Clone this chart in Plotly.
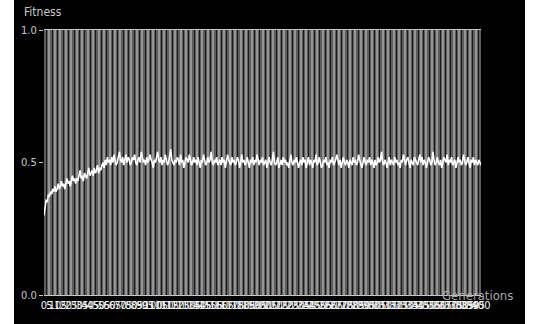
import plotly.graph_objects as go

fitness = [
    0.30, 0.33, 0.36, 0.35, 0.38, 0.37, 0.39, 0.38, 0.40, 0.39,
    0.41, 0.39, 0.40, 0.42, 0.40, 0.41, 0.43, 0.41, 0.42, 0.40,
    0.42, 0.44, 0.42, 0.43, 0.41, 0.43, 0.45, 0.43, 0.44, 0.42,
    0.44, 0.43, 0.45, 0.47, 0.44, 0.45, 0.43, 0.46, 0.45, 0.44,
    0.46, 0.48, 0.45, 0.46, 0.47, 0.45, 0.48, 0.46, 0.47, 0.49,
    0.46, 0.48, 0.47, 0.49, 0.50, 0.48, 0.51, 0.49, 0.52, 0.50,
    0.51,
    0.49, 0.52, 0.50, 0.53, 0.51, 0.49, 0.50, 0.52, 0.54, 0.51, 0.50, 0.52, 0.49, 0.51, 0.53, 0.50, 0.52, 0.51, 0.49, 0.50,
    0.52, 0.51, 0.53, 0.50, 0.49, 0.51, 0.52, 0.50, 0.54, 0.52, 0.50, 0.51, 0.49, 0.52, 0.50, 0.51, 0.53, 0.51, 0.50, 0.48,
    0.51, 0.50, 0.52, 0.54, 0.51, 0.50, 0.52, 0.49, 0.51, 0.50, 0.53, 0.51, 0.49, 0.50, 0.52, 0.55, 0.51, 0.50, 0.49, 0.51,
    0.50, 0.52, 0.51, 0.49, 0.53, 0.50, 0.51, 0.48, 0.50, 0.52, 0.51, 0.50, 0.53, 0.51, 0.49, 0.50, 0.52, 0.50, 0.51, 0.49,
    0.52, 0.50, 0.48, 0.51, 0.50, 0.53, 0.51, 0.49, 0.50, 0.52, 0.50, 0.51, 0.54, 0.50, 0.49, 0.51, 0.50, 0.52, 0.49, 0.50,
    0.51, 0.49, 0.52, 0.50, 0.51, 0.48, 0.50, 0.53, 0.51, 0.50, 0.49, 0.52, 0.50, 0.51, 0.49, 0.50, 0.52, 0.51, 0.48, 0.50,
    0.53, 0.50, 0.51, 0.49, 0.50, 0.52, 0.50, 0.48, 0.51, 0.50, 0.52, 0.49, 0.51, 0.50, 0.53, 0.50, 0.49, 0.51, 0.50, 0.52,
    0.49, 0.50, 0.51, 0.48, 0.50, 0.52, 0.50, 0.49, 0.51, 0.54, 0.50, 0.49, 0.50, 0.52, 0.48, 0.50, 0.51, 0.49, 0.52, 0.50,
    0.51, 0.49, 0.50, 0.48, 0.51, 0.53, 0.50, 0.49, 0.51, 0.50, 0.52, 0.49, 0.48, 0.50, 0.51, 0.49, 0.52, 0.50, 0.51, 0.48,
    0.50, 0.52, 0.49, 0.51, 0.50, 0.48, 0.51, 0.50, 0.53, 0.49, 0.50, 0.52, 0.50, 0.48, 0.49, 0.51, 0.50, 0.52, 0.49, 0.50,
    0.48, 0.51, 0.50, 0.52, 0.49, 0.50, 0.51, 0.53, 0.50, 0.49, 0.51, 0.48, 0.50, 0.52, 0.50, 0.49, 0.51, 0.50, 0.48, 0.51,
    0.50, 0.49, 0.52, 0.50, 0.51, 0.49, 0.50, 0.53, 0.51, 0.49, 0.48, 0.50, 0.52, 0.50, 0.49, 0.51, 0.50, 0.52, 0.49, 0.51,
    0.50, 0.48, 0.51, 0.49, 0.50, 0.52, 0.50, 0.51, 0.54, 0.50, 0.49, 0.51, 0.50, 0.48, 0.50, 0.52, 0.49, 0.51, 0.50, 0.49,
    0.52, 0.50, 0.51, 0.49, 0.50, 0.48, 0.51, 0.50, 0.53, 0.50, 0.49, 0.51, 0.52, 0.50, 0.48, 0.51, 0.50, 0.49, 0.52, 0.51,
    0.50, 0.49, 0.51, 0.53, 0.50, 0.52, 0.49, 0.51, 0.50, 0.48, 0.50, 0.52, 0.51, 0.49, 0.50, 0.54, 0.51, 0.49, 0.50, 0.52,
    0.50, 0.49, 0.51, 0.48, 0.50, 0.52, 0.51, 0.50, 0.53, 0.49, 0.51, 0.50, 0.52, 0.49, 0.50, 0.51, 0.48, 0.50, 0.52, 0.50,
    0.51, 0.49, 0.50, 0.53, 0.51, 0.49, 0.50, 0.52, 0.50, 0.48, 0.51, 0.50, 0.52, 0.49, 0.51, 0.50, 0.49, 0.51, 0.50, 0.49,
]
generations = list(range(0, 401))
x_ticks = list(range(0, 401, 5))
x_tick_labels = [str(v) for v in x_ticks]
y_ticks = [0.0, 0.5, 1.0]
y_tick_labels = ["0.0", "0.5", "1.0"]

FONT = "Liberation Sans Narrow, DejaVu Sans Condensed, Roboto Condensed, Liberation Sans, sans-serif"

L, R, T, B = 44, 52, 30, 27
PW, PH = 533 - L - R, 324 - T - B

fig = go.Figure()
fig.add_trace(go.Scatter(x=generations, y=fitness, mode="lines",
                         line=dict(color="#ffffff", width=1.6), showlegend=False))

fig.update_layout(
    width=533, height=324,
    margin=dict(l=L, r=R, t=T, b=B),
    paper_bgcolor="#000000",
    plot_bgcolor="#5e5e5e",
    font=dict(family=FONT, color="#c8c8c8", size=11),
    xaxis=dict(range=[0, 400], tickvals=x_ticks, ticktext=x_tick_labels, tickangle=0,
               tickfont=dict(size=11, color="#f4f4f4"), ticks="",
               showgrid=True, gridcolor="#959595", gridwidth=2,
               minor=dict(dtick=5, tick0=2.5, showgrid=True, gridcolor="#1a1a1a", gridwidth=1),
               showline=True, linecolor="#c8c8c8", linewidth=1, mirror=True,
               zeroline=False, fixedrange=True),
    yaxis=dict(range=[0, 1], tickvals=y_ticks, ticktext=y_tick_labels,
               ticks="outside", ticklen=4, tickcolor="#c8c8c8",
               tickfont=dict(size=11, color="#c8c8c8"),
               showgrid=False, zeroline=False, showline=False, fixedrange=True),
    shapes=[
        dict(type="rect", xref="paper", yref="paper", x0=-L / PW, x1=-(L - 14) / PW,
             y0=-0.3, y1=1.3, fillcolor="#ffffff", line=dict(width=0), layer="above"),
        dict(type="rect", xref="paper", yref="paper", x0=(525 - L) / PW, x1=(540 - L) / PW,
             y0=-0.3, y1=1.3, fillcolor="#ffffff", line=dict(width=0), layer="above"),
    ],
    annotations=[
        dict(text="Fitness", xref="paper", yref="paper", x=-(L - 22) / PW, y=1.0 + 9 / PH,
             xanchor="left", yanchor="bottom", showarrow=False,
             font=dict(size=12, color="#c8c8c8", family=FONT)),
        dict(text="Generations", xref="paper", yref="paper", x=(515 - L) / PW, y=0.0,
             xanchor="right", yanchor="middle", showarrow=False,
             font=dict(size=13, color="#a8a8a8", family=FONT)),
    ],
)

fig.write_html("out.html", config={"displayModeBar": False},
               post_script="document.body.style.margin='0';")
